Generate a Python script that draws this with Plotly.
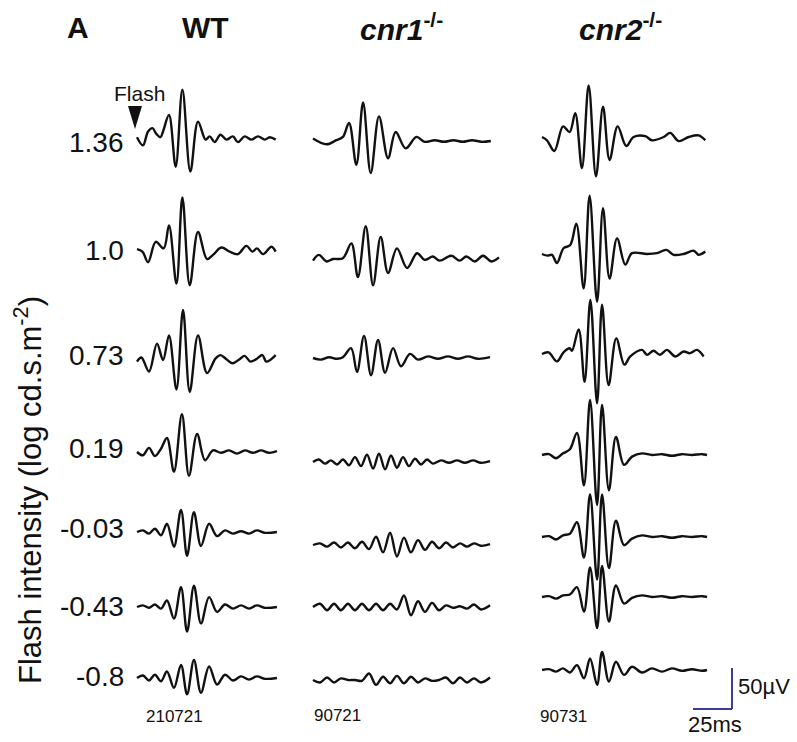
import plotly.graph_objects as go

# ---------------- scale (from the 25 ms / 50 µV scale bar) ----------------
PX_PER_MS = 1.56
PX_PER_UV = 0.82
W, H = 797, 742

# ---------------- data: time (ms from trace start) and voltage (µV) -------
# Row labels (log cd.s.m^-2)
intensities = ["1.36", "1.0", "0.73", "0.19", "-0.03", "-0.43", "-0.8"]
groups = ["WT", "cnr1", "cnr2"]
ids = ["210721", "90721", "90731"]

# WT
wt_136_t = [0, 3.8, 7.1, 9.9, 12.4, 15.0, 16.7, 20.5, 24.8, 29.1, 34.2, 39.1, 44.0, 46.6, 49.8, 53.5, 57.3, 61.5, 64.7, 69.0, 73.3, 77.6, 81.9, 85.1, 88.9]
wt_136_v = [1, -9, 8, 12, 5, 1, 8, 28, -35, 59, -41, 20, -2, 2, -5, 4, -2, 2, -5, 2, -2, 2, -2, 1, -2]
wt_100_t = [0, 3.5, 7.1, 12.0, 17.1, 20.5, 25.3, 29.1, 33.8, 39.1, 44.9, 48.7, 54.1, 59.4, 64.7, 70.1, 74.0, 76.9, 80.8, 86.2, 88.9]
wt_100_v = [1, -2, -15, 10, 2, 30, -41, 64, -43, 22, -11, -6, 3, -2, -5, 5, -2, 2, -5, 4, -2]
wt_073_t = [0, 2.8, 7.7, 12.8, 16.7, 20.5, 25.3, 29.5, 33.8, 39.1, 44.9, 50.4, 53.5, 57.3, 61.2, 65.8, 69.0, 72.7, 76.5, 80.4, 82.9, 88.9]
wt_073_v = [-2, 3, -14, 20, 0, 30, -36, 61, -39, 30, -16, 2, 6, 1, -4, 1, 5, -2, 1, 6, -2, 6]
wt_019_t = [0, 3.8, 7.7, 11.5, 15.4, 19.2, 23.7, 28.8, 33.3, 38.5, 43.6, 48.7, 53.8, 59.0, 64.1, 69.2, 74.4, 79.5, 84.6, 89.7]
wt_019_v = [0, -4, 5, -5, 4, 17, -24, 46, -29, 22, -10, 2, -1, 2, -2, 2, -1, 2, -1, 1]
wt_m003_t = [0, 3.8, 7.7, 11.5, 15.4, 19.2, 23.7, 28.2, 32.1, 36.5, 41.0, 46.2, 51.3, 56.4, 61.5, 66.7, 71.8, 76.9, 82.1, 89.7]
wt_m003_v = [0, 2, -2, 4, -4, 10, -18, 27, -29, 24, -17, 10, -5, 2, -2, 1, -2, 2, -1, 0]
wt_m043_t = [0, 3.8, 7.7, 11.5, 15.4, 19.2, 23.7, 28.2, 32.1, 36.5, 41.0, 46.2, 51.3, 56.4, 61.5, 66.7, 71.8, 76.9, 82.1, 89.7]
wt_m043_v = [0, 2, -1, 3, -2, 8, -14, 24, -30, 26, -20, 12, -6, 3, -2, 2, -2, 2, -1, 0]
wt_m080_t = [0, 3.8, 7.7, 11.5, 15.4, 19.2, 23.7, 28.2, 32.1, 36.5, 41.0, 46.2, 51.3, 56.4, 61.5, 66.7, 71.8, 76.9, 82.1, 89.7]
wt_m080_v = [0, 3, -3, 4, -4, 8, -12, 16, -20, 22, -18, 14, -8, 4, -3, 2, -2, 2, -1, 0]

# cnr1-/-
c1_136_t = [0, 8.6, 15.0, 19.2, 23.1, 27.8, 32.1, 37.0, 42.3, 48.1, 53.0, 59.4, 66.3, 71.6, 78, 84, 90, 96, 102, 108, 114]
c1_136_v = [3, -4, 1, 5, 22, -29, 47, -39, 30, -21, 11, -9, 5, -1, 1, -1, 1, -1, 1, -1, 0]
c1_100_t = [0, 3.8, 8.6, 12.8, 19.2, 24.6, 28.8, 33.8, 38.5, 43.4, 48.1, 53.8, 60.3, 66.7, 71.6, 76.9, 81.2, 88.7, 94.0, 98.3, 103.7, 109.0, 114.4, 119.2]
c1_100_v = [-2, 5, -3, 0, 1, 19, -22, 40, -32, 27, -17, 13, -11, 7, -1, 3, -2, 4, -2, 3, -3, 4, -3, 2]
c1_073_t = [0, 5.1, 10.3, 15.4, 19.2, 24.4, 28.2, 32.7, 37.2, 41.7, 46.2, 51.3, 56.4, 62.2, 67.3, 73.7, 80.1, 86.5, 92.9, 99.4, 105.8, 113.5]
c1_073_v = [0, -2, 1, -1, 1, 12, -17, 27, -21, 22, -18, 12, -10, 5, -2, 2, -1, 2, -1, 2, -1, 1]
c1_019_t = [0, 3.8, 7.7, 11.5, 15.4, 19.2, 23.1, 26.9, 30.8, 34.6, 38.5, 42.3, 46.2, 50, 53.8, 57.7, 61.5, 65.4, 69.2, 73.1, 76.9, 82.1, 87.2, 92.3, 97.4, 102.6, 107.7, 113.5]
c1_019_v = [0, 3, -2, 2, -3, 3, -4, 6, -5, 9, -8, 10, -9, 8, -7, 6, -5, 4, -3, 3, -2, 2, -1, 2, -1, 2, -1, 1]
c1_m003_t = [0, 4.5, 9.0, 13.5, 17.9, 22.4, 26.9, 31.4, 35.9, 40.4, 44.9, 49.4, 53.8, 58.3, 62.8, 67.3, 71.8, 76.3, 80.8, 85.3, 89.7, 94.2, 98.7, 103.2, 107.7, 113.5]
c1_m003_v = [0, 2, -2, 3, -3, 3, -4, 4, -5, 10, -9, 15, -14, 9, -9, 6, -6, 4, -4, 3, -3, 2, -2, 2, -1, 1]
c1_m043_t = [0, 4.5, 9.0, 13.5, 17.9, 22.4, 26.9, 31.4, 35.9, 40.4, 44.9, 49.4, 53.8, 58.3, 62.8, 67.3, 71.8, 76.3, 80.8, 85.3, 89.7, 94.2, 98.7, 103.2, 107.7, 113.5]
c1_m043_v = [0, 4, -4, 4, -4, 4, -4, 4, -4, 4, -4, 4, -3, 14, -10, 7, -6, 5, -4, 2, -1, 1, -2, 3, -3, 2]
c1_m080_t = [0, 4.5, 9.0, 13.5, 17.9, 22.4, 26.9, 31.4, 35.9, 40.4, 44.9, 49.4, 53.8, 58.3, 62.8, 67.3, 71.8, 76.3, 80.8, 85.3, 89.7, 94.2, 98.7, 103.2, 107.7, 113.5]
c1_m080_v = [0, -3, 3, -3, 2, 0, 0, -1, 8, -6, 4, -4, 5, -4, 4, -3, 2, -1, 0, 3, -4, 3, -3, 2, -3, 3]

# cnr2-/-
c2_136_t = [0, 3.2, 7.9, 13.5, 17.7, 21.3, 25.6, 29.9, 34.6, 39.1, 43.3, 48.5, 54.0, 58.7, 66.2, 70.5, 78.0, 82.2, 87.6, 94.0, 100.4, 104.7]
c2_136_v = [0, -4, -17, 13, 6, 29, -38, 63, -48, 37, -28, 13, -11, 0, 1, -4, 0, 5, -5, 0, 2, -4]
c2_100_t = [0, 3.6, 6.4, 9.6, 13.8, 18.1, 22.0, 26.7, 30.5, 35.3, 39.1, 43.3, 48.1, 53.4, 57.7, 67.3, 73.7, 79.7, 84.4, 90.8, 97.2, 100.4, 104.7]
c2_100_v = [0, -2, -1, -11, 7, 11, 37, -42, 71, -58, 56, -30, 19, -13, 1, 0, 1, 5, -1, 0, 4, -1, 3]
c2_073_t = [0, 4.2, 9.6, 13.8, 17.7, 19.2, 23.5, 27.3, 31.0, 35.3, 38.5, 42.7, 47.6, 52.8, 56.6, 64.1, 67.3, 71.5, 75.6, 80.1, 85.4, 90.8, 94.9, 99.4, 103.6]
c2_073_v = [0, 2, -9, 2, 7, 4, 30, -34, 66, -60, 60, -38, 19, -13, -3, 5, -1, 4, -1, 5, -3, 3, 1, 5, -3]
c2_019_t = [0, 4.5, 9.0, 13.5, 17.9, 22.4, 26.9, 30.8, 35.3, 38.5, 42.9, 47.4, 52.6, 57.7, 64.1, 70.5, 76.9, 83.3, 89.7, 96.2, 102.6, 105.8]
c2_019_v = [0, 1, -4, 2, 7, 27, -37, 67, -61, 61, -43, 22, -12, -2, 2, 0, 1, -1, 1, 0, 1, 0]
c2_m003_t = [0, 4.5, 9.0, 13.5, 17.9, 22.4, 26.9, 30.8, 35.3, 38.5, 42.9, 47.4, 52.6, 57.7, 64.1, 70.5, 76.9, 83.3, 89.7, 96.2, 102.6, 105.8]
c2_m003_v = [0, 1, -3, 2, 4, 18, -25, 52, -52, 52, -38, 20, -10, -2, 2, 0, 1, -1, 1, 0, 1, 0]
c2_m043_t = [0, 4.5, 9.0, 13.5, 17.9, 22.4, 26.9, 30.8, 35.3, 38.5, 42.9, 47.4, 52.6, 57.7, 64.1, 70.5, 76.9, 83.3, 89.7, 96.2, 102.6, 105.8]
c2_m043_v = [0, 1, -2, 2, 3, 12, -18, 36, -38, 38, -30, 14, -8, -1, 2, 0, 1, -1, 1, 0, 1, 0]
c2_m080_t = [0, 4.5, 9.0, 13.5, 17.9, 22.4, 26.9, 30.8, 35.3, 38.5, 42.9, 47.4, 52.6, 57.7, 64.1, 70.5, 76.9, 83.3, 89.7, 96.2, 102.6, 105.8]
c2_m080_v = [0, 1, -2, 2, -3, 6, -10, 14, -18, 22, -14, 10, -6, 4, -3, 2, -2, 2, -1, 1, -1, 0]

traces_t = {
    "WT": [wt_136_t, wt_100_t, wt_073_t, wt_019_t, wt_m003_t, wt_m043_t, wt_m080_t],
    "cnr1": [c1_136_t, c1_100_t, c1_073_t, c1_019_t, c1_m003_t, c1_m043_t, c1_m080_t],
    "cnr2": [c2_136_t, c2_100_t, c2_073_t, c2_019_t, c2_m003_t, c2_m043_t, c2_m080_t],
}
traces_v = {
    "WT": [wt_136_v, wt_100_v, wt_073_v, wt_019_v, wt_m003_v, wt_m043_v, wt_m080_v],
    "cnr1": [c1_136_v, c1_100_v, c1_073_v, c1_019_v, c1_m003_v, c1_m043_v, c1_m080_v],
    "cnr2": [c2_136_v, c2_100_v, c2_073_v, c2_019_v, c2_m003_v, c2_m043_v, c2_m080_v],
}

# ---------------- layout (pixel placement of each trace) ------------------
col_start_px = {"WT": 137, "cnr1": 313, "cnr2": 542}
row_base_px = {
    "WT":   [138, 250, 360, 452, 532, 607, 678],
    "cnr1": [141, 259, 358, 462, 545, 607, 680],
    "cnr2": [137, 254, 354, 455, 537, 597, 670],
}
label_y_px = [143, 250, 355, 448, 528, 606, 676]


def X(px):
    return px / PX_PER_MS


def Y(py):
    return -py / PX_PER_UV


fig = go.Figure()
for g in groups:
    for i in range(len(intensities)):
        t = traces_t[g][i]
        v = traces_v[g][i]
        x0 = X(col_start_px[g])
        y0 = Y(row_base_px[g][i])
        fig.add_trace(go.Scatter(
            x=[x0 + tt for tt in t],
            y=[y0 + vv for vv in v],
            mode="lines",
            line=dict(color="#111111", width=2.4, shape="spline", smoothing=1.0),
            hoverinfo="skip",
            showlegend=False,
        ))

FONT = "Liberation Sans, Arial, Helvetica, sans-serif"
ann = []


def add_text(px, py, text, size, xanchor="center", bold=False, color="#111111", **kw):
    ann.append(dict(
        x=px / W, y=1 - py / H, xref="paper", yref="paper",
        text=("<b>%s</b>" % text) if bold else text,
        showarrow=False, xanchor=xanchor, yanchor="middle",
        font=dict(family=FONT, size=size, color=color), **kw))


# headers
add_text(78, 27, "A", 30, bold=True)
add_text(205, 27, "WT", 30, bold=True)
add_text(402, 27, "<i>cnr1</i><sup>-/-</sup>", 30, bold=True)
add_text(620, 27, "<i>cnr2</i><sup>-/-</sup>", 30, bold=True)

# row labels
for lab, py in zip(intensities, label_y_px):
    add_text(126, py, lab, 28, xanchor="right")

# y title
add_text(28, 490, "Flash intensity (log cd.s.m<sup>-2</sup>)", 31, textangle=-90)

# flash marker label
add_text(139, 93, "Flash", 21)

# ids under last row
add_text(174, 716, ids[0], 17)
add_text(337, 715, ids[1], 17)
add_text(563, 716, ids[2], 17)

# scale bar labels
add_text(736, 686, "50µV", 22, xanchor="left")
add_text(715, 724, "25ms", 22)

bar_color = "#3c3c9c"
shapes = [
    # flash triangle
    dict(type="path", xref="x", yref="y",
         path="M %f,%f L %f,%f L %f,%f Z" % (X(128), Y(106), X(142), Y(106), X(135), Y(129)),
         fillcolor="#111111", line=dict(width=0)),
    # scale bar
    dict(type="line", xref="x", yref="y", x0=X(732), x1=X(732),
         y0=Y(709), y1=Y(709) + 50, line=dict(color=bar_color, width=2)),
    dict(type="line", xref="x", yref="y", x0=X(732) - 25, x1=X(732),
         y0=Y(709), y1=Y(709), line=dict(color=bar_color, width=2)),
]

fig.update_layout(
    width=W, height=H,
    margin=dict(l=0, r=0, t=0, b=0),
    paper_bgcolor="white", plot_bgcolor="white",
    xaxis=dict(range=[0, X(W)], visible=False, fixedrange=True),
    yaxis=dict(range=[Y(H), 0], visible=False, fixedrange=True),
    annotations=ann, shapes=shapes,
)

fig.write_html("out.html")
